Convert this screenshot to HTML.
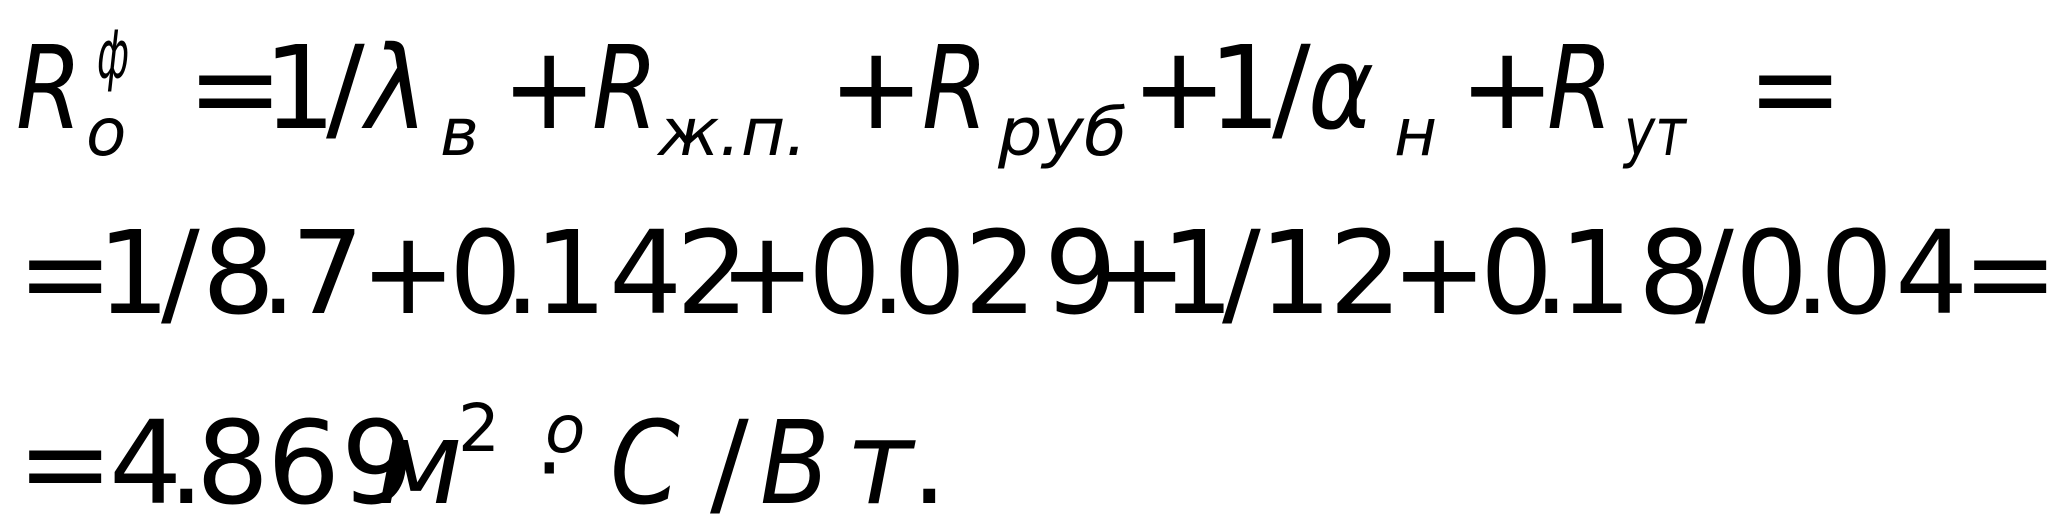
<!DOCTYPE html>
<html><head><meta charset="utf-8"><style>
html,body{margin:0;padding:0;background:#fff;width:2048px;height:526px;overflow:hidden}
svg{display:block}
text{font-family:"DejaVu Sans","Liberation Sans",sans-serif;fill:#000}
.i{font-style:italic}
.b{font-size:115px}
.s{font-size:66px}
</style></head><body>
<svg width="2048" height="526" viewBox="0 0 2048 526">
<!-- line 1 -->
<text class="b i" x="16" y="128" textLength="66" lengthAdjust="spacingAndGlyphs">R</text>
<text class="s i" x="97" y="78" textLength="32" lengthAdjust="spacingAndGlyphs">ф</text>
<text class="s i" x="86" y="155">о</text>
<text class="b" x="187" y="128">=</text>
<text class="b" x="263" y="128">1</text>
<text class="b" x="326" y="128">/</text>
<text class="b i" x="366" y="128" textLength="62" lengthAdjust="spacingAndGlyphs">λ</text>
<text class="s i" x="440" y="155">в</text>
<text class="b" x="501" y="128">+</text>
<text class="b i" x="592" y="128" textLength="66" lengthAdjust="spacingAndGlyphs">R</text>
<text class="s i" x="658" y="155" textLength="149" lengthAdjust="spacingAndGlyphs">ж.п.</text>
<text class="b" x="828" y="128">+</text>
<text class="b i" x="922" y="128" textLength="66" lengthAdjust="spacingAndGlyphs">R</text>
<text class="s i" x="998" y="155" textLength="129" lengthAdjust="spacingAndGlyphs">руб</text>
<text class="b" x="1131" y="128">+</text>
<text class="b" x="1208" y="128">1</text>
<text class="b" x="1272" y="128">/</text>
<text class="b i" x="1308" y="128" textLength="66" lengthAdjust="spacingAndGlyphs">α</text>
<text class="s i" x="1394" y="155">н</text>
<text class="b" x="1459" y="128">+</text>
<text class="b i" x="1547" y="128" textLength="66" lengthAdjust="spacingAndGlyphs">R</text>
<text class="s i" x="1624" y="155" textLength="62" lengthAdjust="spacingAndGlyphs">ут</text>
<text class="b" x="1747" y="128">=</text>
<!-- line 2 -->
<text class="b" x="17" y="313">=</text>
<text class="b" x="97" y="313">1</text>
<text class="b" x="161" y="313">/</text>
<text class="b" x="202" y="313">8</text>
<text class="b" x="260" y="313">.</text>
<text class="b" x="291" y="313">7</text>
<text class="b" x="360" y="313">+</text>
<text class="b" x="449" y="313">0</text>
<text class="b" x="504" y="313">.</text>
<text class="b" x="534" y="313">1</text>
<text class="b" x="609" y="313">4</text>
<text class="b" x="676" y="313">2</text>
<text class="b" x="719" y="313">+</text>
<text class="b" x="808" y="313">0</text>
<text class="b" x="870" y="313">.</text>
<text class="b" x="893" y="313">0</text>
<text class="b" x="964" y="313">2</text>
<text class="b" x="1044" y="313">9</text>
<text class="b" x="1091" y="313">+</text>
<text class="b" x="1161" y="313">1</text>
<text class="b" x="1222" y="313">/</text>
<text class="b" x="1259" y="313">1</text>
<text class="b" x="1329" y="313">2</text>
<text class="b" x="1391" y="313">+</text>
<text class="b" x="1480" y="313">0</text>
<text class="b" x="1533" y="313">.</text>
<text class="b" x="1559" y="313">1</text>
<text class="b" x="1638" y="313">8</text>
<text class="b" x="1695" y="313">/</text>
<text class="b" x="1735" y="313">0</text>
<text class="b" x="1794" y="313">.</text>
<text class="b" x="1820" y="313">0</text>
<text class="b" x="1895" y="313">4</text>
<text class="b" x="1962" y="313">=</text>
<!-- line 3 -->
<text class="b" x="17" y="503">=</text>
<text class="b" x="109" y="503">4</text>
<text class="b" x="168" y="503">.</text>
<text class="b" x="196" y="503">8</text>
<text class="b" x="267" y="503">6</text>
<text class="b" x="341" y="503">9</text>
<text class="b i" x="376" y="503">м</text>
<text class="s" x="458" y="451">2</text>
<text class="s i" x="545" y="452">o</text>
<text x="535" y="499" style="font-size:90px">·</text>
<text class="b i" x="610" y="503" textLength="70" lengthAdjust="spacingAndGlyphs">C</text>
<text class="b" x="710" y="503">/</text>
<text class="b i" x="760" y="503" textLength="70" lengthAdjust="spacingAndGlyphs">В</text>
<text class="b i" x="846" y="503">т</text>
<text class="b" x="911" y="503">.</text>
</svg>
</body></html>
